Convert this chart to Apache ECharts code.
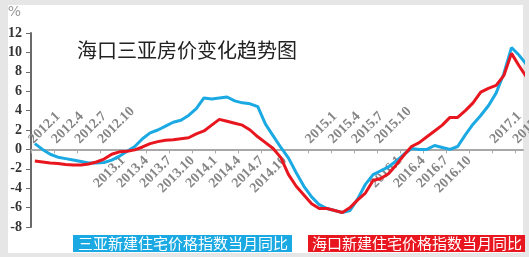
<!DOCTYPE html>
<html>
<head>
<meta charset="utf-8">
<script src="https://cdn.jsdelivr.net/npm/echarts@6/dist/echarts.min.js"></script>
<style>
html,body{margin:0;padding:0;background:#e6e6e6;}
#frame{position:absolute;left:8px;top:5px;width:515px;height:248px;background:#fff;}
#chart{position:absolute;left:0;top:0;width:529px;height:257px;}
</style>
</head>
<body>
<div id="frame"></div>
<div id="chart"></div>
<script>
// Month index 0 = 2012.1
const startYear = 2012;
const titleText = '海口三亚房价变化趋势图';
const sanyaName = '三亚新建住宅价格指数当月同比';
const haikouName = '海口新建住宅价格指数当月同比';
const sanya = [
  0.6, 0.0, -0.5, -0.8, -0.95, -1.1, -1.25, -1.4, -1.4, -1.35, -1.1, -0.7,
  -0.2, 0.3, 1.1, 1.7, 2.0, 2.4, 2.8, 3.0, 3.5, 4.2, 5.3, 5.2,
  5.3, 5.4, 5.0, 4.8, 4.7, 4.4, 2.6, 1.4, 0.2, -0.9, -2.4, -3.8,
  -4.9, -5.7, -6.1, -6.3, -6.5, -6.3, -5.1, -3.6, -2.6, -2.2, -1.8, -1.2,
  -0.5, 0.1, 0.0, 0.0, 0.4, 0.2, 0.0, 0.3, 1.5, 2.6, 3.5, 4.5,
  5.8, 7.8, 10.5, 9.7, 8.7
];
const haikou = [
  -1.2, -1.3, -1.4, -1.45, -1.55, -1.6, -1.6, -1.5, -1.3, -1.0, -0.5, -0.25,
  -0.2, -0.05, 0.25, 0.6, 0.8, 0.95, 1.0, 1.1, 1.2, 1.6, 1.9, 2.5,
  3.1, 2.9, 2.7, 2.5, 2.0, 1.3, 0.7, 0.1, -0.85, -2.6, -3.8, -4.7,
  -5.6, -6.1, -6.1, -6.3, -6.5, -6.0, -5.2, -4.5, -3.2, -3.0, -2.5, -1.6,
  -0.6, 0.3, 0.7, 1.3, 1.9, 2.5, 3.3, 3.3, 4.0, 4.8, 5.9, 6.3,
  6.6, 7.6, 9.9, 8.6, 7.4
];
// tick label month indices: below the zero line / above the zero line
const labelsBelow = [12, 15, 18, 21, 24, 27, 30, 33, 48, 51, 54, 57];
const labelsAbove = [0, 3, 6, 9, 36, 39, 42, 45, 60, 63];
const yTicks = {min: -8, max: 12, interval: 2};

function monthLabel(v) {
  const y = startYear + Math.floor(v / 12);
  const m = (v % 12) + 1;
  return y + '.' + m;
}
const toPoints = arr => arr.map((v, i) => [i + 0.5, v]);
const tickVals = [];
for (let v = 0; v <= 63; v += 3) tickVals.push(v);

const gridTop = 33, gridBottom = 30, H = 257;
const gridH = H - gridTop - gridBottom;
const zeroFromTop = gridH * yTicks.max / (yTicks.max - yTicks.min);
const offBottom = -(gridH - zeroFromTop);

const xLabelStyle = {
  rotate: 45, fontFamily: 'Liberation Serif', fontWeight: 'bold',
  fontSize: 14, color: '#858585'
};

const chart = echarts.init(document.getElementById('chart'));
chart.setOption({
  animation: false,
  backgroundColor: 'transparent',
  title: {
    text: titleText, left: 77, top: 40, padding: 0,
    textStyle: {fontFamily: 'Noto Sans CJK SC', fontWeight: 'normal', fontSize: 20, color: '#222'}
  },
  legend: [
    {data: [sanyaName], left: 68, top: 235, padding: 0, itemWidth: 0, itemHeight: 0, icon: 'none',
     selectedMode: false,
     textStyle: {fontFamily: 'Noto Sans CJK SC', fontSize: 15, color: '#fff', backgroundColor: '#1aa9e2', padding: [0, 4, 0, 5], lineHeight: 17}},
    {data: [haikouName], left: 303, top: 235, padding: 0, itemWidth: 0, itemHeight: 0, icon: 'none',
     selectedMode: false,
     textStyle: {fontFamily: 'Noto Sans CJK SC', fontSize: 15, color: '#fff', backgroundColor: '#e8161e', padding: [0, 3, 0, 4], lineHeight: 17}}
  ],
  grid: {left: 31, right: 6, top: gridTop, bottom: gridBottom, containLabel: false, outerBoundsMode: 'none'},
  xAxis: [
    {type: 'value', min: 0, max: 64, interval: 3, position: 'bottom', offset: offBottom,
     axisLine: {onZero: false, lineStyle: {color: '#a8a8a8', width: 2}},
     axisTick: {show: true, length: 4, customValues: tickVals, lineStyle: {color: '#a8a8a8', width: 1}},
     splitLine: {show: false},
     axisLabel: Object.assign({}, xLabelStyle, {
       margin: 9,
       customValues: labelsBelow,
       formatter: v => labelsBelow.indexOf(v) >= 0 ? monthLabel(v) : ''
     })},
    {type: 'value', min: 0, max: 64, interval: 3, position: 'bottom', offset: offBottom,
     axisLine: {show: false, onZero: false},
     axisTick: {show: false},
     splitLine: {show: false},
     axisLabel: Object.assign({}, xLabelStyle, {
       inside: true, margin: 8,
       customValues: labelsAbove,
       formatter: v => labelsAbove.indexOf(v) >= 0 ? monthLabel(v) : ''
     })}
  ],
  yAxis: [
    {type: 'value', min: yTicks.min, max: yTicks.max, interval: yTicks.interval, position: 'left',
     name: '%', nameLocation: 'end', nameGap: 14,
     nameTextStyle: {fontFamily: 'DejaVu Sans', fontSize: 14, color: '#9a9a9a', align: 'right', padding: [0, 10, 0, 0]},
     axisLine: {show: true, onZero: false, lineStyle: {color: '#6a6a6a', width: 2}},
     axisTick: {show: true, length: 5, lineStyle: {color: '#6a6a6a'}},
     splitLine: {show: false},
     axisLabel: {fontFamily: 'Liberation Serif', fontWeight: 'bold', fontSize: 14, color: '#333', margin: 9}}
  ],
  series: [
    {name: sanyaName, type: 'line', data: toPoints(sanya), xAxisIndex: 0, yAxisIndex: 0,
     symbol: 'none', lineStyle: {color: '#1aa9e2', width: 3}, itemStyle: {color: '#1aa9e2'}, clip: true},
    {name: haikouName, type: 'line', data: toPoints(haikou), xAxisIndex: 0, yAxisIndex: 0,
     symbol: 'none', lineStyle: {color: '#e8161e', width: 3}, itemStyle: {color: '#e8161e'}, clip: true}
  ]
});
</script>
</body>
</html>
